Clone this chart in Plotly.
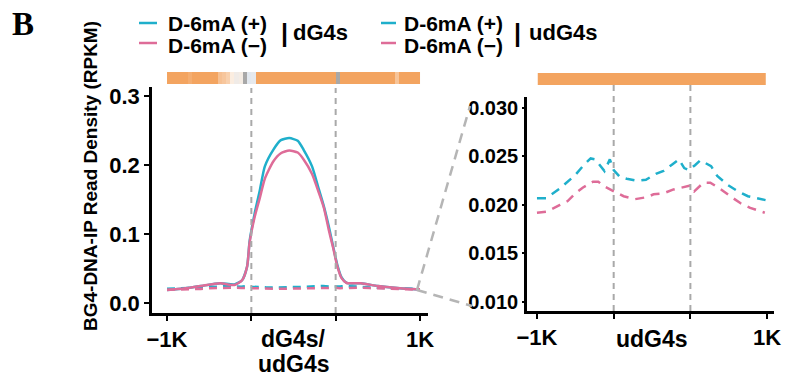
import plotly.graph_objects as go

W, H = 786, 380

# ---------------- data ----------------
# dG4s (solid), position scaled: 0=-1K, 1=G4 start, 2=G4 end, 3=+1K
dg4s_pos = [0.0, 0.2, 0.4, 0.63, 0.8, 0.89, 0.95, 0.98, 1.04, 1.1, 1.16, 1.26, 1.35, 1.45,
            1.55, 1.62, 1.72, 1.8, 1.86, 1.92, 1.97, 2.02, 2.07, 2.13, 2.3, 2.5, 2.73, 2.95, 3.0]
dg4s_plus = [0.019, 0.021, 0.0246, 0.0285, 0.027, 0.033, 0.053, 0.09, 0.13, 0.163, 0.198, 0.222,
             0.236, 0.239, 0.235, 0.222, 0.198, 0.165, 0.14, 0.11, 0.082, 0.055, 0.037, 0.029,
             0.0285, 0.0246, 0.0217, 0.020, 0.020]
dg4s_minus = [0.019, 0.021, 0.0246, 0.0285, 0.026, 0.033, 0.053, 0.088, 0.125, 0.152, 0.18, 0.205,
              0.217, 0.221, 0.218, 0.208, 0.187, 0.16, 0.138, 0.105, 0.08, 0.053, 0.036, 0.029,
              0.0285, 0.0246, 0.0217, 0.020, 0.020]

# udG4s (dashed)
udg_plus_pos = [0.0, 0.12, 0.3, 0.5, 0.62, 0.7, 0.76, 0.88, 0.95, 1.0, 1.08, 1.17, 1.3, 1.42,
                1.55, 1.65, 1.75, 1.85, 1.92, 1.98, 2.06, 2.13, 2.27, 2.35, 2.48, 2.6, 2.75, 2.9, 2.98]
udg_plus = [0.0207, 0.0207, 0.0217, 0.0231, 0.0242, 0.0248, 0.0247, 0.0235, 0.0247, 0.0236,
            0.0229, 0.0227, 0.0225, 0.0226, 0.0232, 0.0235, 0.0241, 0.0247, 0.0238, 0.0236,
            0.0241, 0.0246, 0.0240, 0.0230, 0.0221, 0.0215, 0.0209, 0.0206, 0.0205]
udg_minus_pos = [0.0, 0.12, 0.3, 0.4, 0.5, 0.6, 0.73, 0.8, 0.88, 1.0, 1.13, 1.28, 1.43, 1.52,
                 1.65, 1.78, 1.9, 2.0, 2.05, 2.17, 2.26, 2.4, 2.52, 2.65, 2.78, 2.9, 2.97]
udg_minus = [0.0192, 0.0193, 0.0200, 0.0204, 0.0212, 0.0218, 0.0224, 0.0224, 0.0219, 0.0214,
             0.0209, 0.0206, 0.0208, 0.0211, 0.0212, 0.0216, 0.0218, 0.0220, 0.0214, 0.0223,
             0.0223, 0.0216, 0.0209, 0.0202, 0.0197, 0.0194, 0.0192]

# heat strips (1 = full orange, lower = paler, 0 = gray)
strip_dg4s = [1, 1, 1, 1, 1, 0.92, 1, 1, 1, 1, 1, 1, 0.75, 0.7, 0.6, 0.3, 0.22, 0.25, 0.0, 0.12,
              0.15, 1, 1, 1, 1, 1, 1, 1, 1, 1, 1, 1, 1, 1, 1, 1, 1, 1, 1, 1,
              0.0, 1, 1, 1, 1, 1, 1, 1, 1, 1, 1, 1, 1, 1, 0.72, 1, 1, 1, 1, 1]
strip_udg4s = [1] * 60

g4_bounds = [1, 2]
x_tickvals = [0, 1, 2, 3]
x_ticktext = ["\u22121K", "", "", "1K"]
y1_ticks = [0.0, 0.1, 0.2, 0.3]
y1_ticktext = ["0.0", "0.1", "0.2", "0.3"]
y2_ticks = [0.010, 0.015, 0.020, 0.025, 0.030]
y2_ticktext = ["0.010", "0.015", "0.020", "0.025", "0.030"]

BLUE = "#1FAFCB"
PINK = "#DE6C98"
ORANGE = "#F3A460"
GRAY = "#A9A9A9"
FONT = "Liberation Sans, Arial, sans-serif"


def px(x):
    return x / W


def py(y):
    return 1 - y / H


fig = go.Figure()

# left panel
fig.add_trace(go.Scatter(x=dg4s_pos, y=dg4s_plus, mode="lines", line=dict(color=BLUE, width=2.5, shape="spline", smoothing=0.6),
                         xaxis="x", yaxis="y", showlegend=False))
fig.add_trace(go.Scatter(x=udg_plus_pos, y=udg_plus, mode="lines", line=dict(color=BLUE, width=2.5, dash="8px,6px"),
                         xaxis="x", yaxis="y", showlegend=False))
fig.add_trace(go.Scatter(x=udg_minus_pos, y=udg_minus, mode="lines", line=dict(color=PINK, width=2.5, dash="8px,6px"),
                         xaxis="x", yaxis="y", showlegend=False))
fig.add_trace(go.Scatter(x=dg4s_pos, y=dg4s_minus, mode="lines", line=dict(color=PINK, width=2.5, shape="spline", smoothing=0.6),
                         xaxis="x", yaxis="y", showlegend=False))

# right panel
fig.add_trace(go.Scatter(x=udg_plus_pos, y=udg_plus, mode="lines", line=dict(color=BLUE, width=2.5, dash="9px,7px"),
                         xaxis="x2", yaxis="y2", showlegend=False))
fig.add_trace(go.Scatter(x=udg_minus_pos, y=udg_minus, mode="lines", line=dict(color=PINK, width=2.5, dash="9px,7px"),
                         xaxis="x2", yaxis="y2", showlegend=False))

cscale = [[0.0, "#A8A8A8"], [0.12, "#E2E8EF"], [0.3, "#FBEDE0"], [0.7, "#F7C69C"], [1.0, ORANGE]]
fig.add_trace(go.Heatmap(z=[strip_dg4s], x0=0.025, dx=0.05, y=[0], colorscale=cscale, zmin=0, zmax=1,
                         showscale=False, xaxis="x3", yaxis="y3", hoverinfo="skip"))
fig.add_trace(go.Heatmap(z=[strip_udg4s], x0=0.035, dx=0.0495, y=[0], colorscale=cscale, zmin=0, zmax=1,
                         showscale=False, xaxis="x4", yaxis="y4", hoverinfo="skip"))

tickfont_x = dict(family=FONT, size=22, color="black", weight="bold")
axis_common = dict(showline=True, linecolor="black", linewidth=2.5, ticks="outside", tickcolor="black",
                   tickwidth=2, showgrid=False, zeroline=False, fixedrange=True, automargin=False)
hidden = dict(visible=False, fixedrange=True, automargin=False)

xl = [152, 428]
xr = [527, 774]
fig.update_layout(
    template="none",
    width=W, height=H, margin=dict(l=0, r=0, t=0, b=0, autoexpand=False),
    paper_bgcolor="white", plot_bgcolor="white",
    font=dict(family=FONT, color="black"),
    xaxis=dict(domain=[px(xl[0]), px(xl[1])], range=[-0.178, 3.095], anchor="y",
               tickvals=x_tickvals, ticktext=x_ticktext, ticklen=5, tickfont=tickfont_x, **axis_common),
    yaxis=dict(domain=[py(313), py(87)], range=[-0.0145, 0.313], anchor="x",
               tickvals=y1_ticks, ticktext=y1_ticktext, ticklen=5,
               tickfont=dict(family=FONT, size=22, color="black", weight="bold"), **axis_common),
    xaxis2=dict(domain=[px(xr[0]), px(xr[1])], range=[-0.130, 3.09], anchor="y2",
                tickvals=x_tickvals, ticktext=x_ticktext, ticklen=5, tickfont=tickfont_x, **axis_common),
    yaxis2=dict(domain=[py(311), py(97)], range=[0.00907, 0.03113], anchor="x2",
                tickvals=y2_ticks, ticktext=y2_ticktext, ticklen=2,
                tickfont=dict(family=FONT, size=20, color="black", weight="bold"), **axis_common),
    xaxis3=dict(domain=[px(xl[0]), px(xl[1])], range=[-0.178, 3.095], anchor="y3", **hidden),
    yaxis3=dict(domain=[py(84), py(72)], range=[-0.5, 0.5], anchor="x3", **hidden),
    xaxis4=dict(domain=[px(xr[0]), px(xr[1])], range=[-0.130, 3.09], anchor="y4", **hidden),
    yaxis4=dict(domain=[py(85), py(73)], range=[-0.5, 0.5], anchor="x4", **hidden),
)

shapes = []
for b in g4_bounds:
    shapes.append(dict(type="line", xref="x", yref="paper", x0=b, x1=b, y0=py(313), y1=py(88),
                       line=dict(color=GRAY, width=2, dash="6px,5px")))
    shapes.append(dict(type="line", xref="x2", yref="paper", x0=b, x1=b, y0=py(311), y1=py(85),
                       line=dict(color=GRAY, width=2, dash="6px,5px")))
# zoom connectors
shapes.append(dict(type="line", xref="paper", yref="paper", x0=px(417), y0=py(290), x1=px(470), y1=py(106),
                   line=dict(color="#B5B5B5", width=2.5, dash="10px,7px")))
shapes.append(dict(type="line", xref="paper", yref="paper", x0=px(417), y0=py(290), x1=px(472), y1=py(306),
                   line=dict(color="#B5B5B5", width=2.5, dash="10px,7px")))
# legend keys
shapes.append(dict(type="line", xref="paper", yref="paper", x0=px(139), x1=px(157), y0=py(23), y1=py(23),
                   line=dict(color=BLUE, width=2.5)))
shapes.append(dict(type="line", xref="paper", yref="paper", x0=px(139), x1=px(157), y0=py(43), y1=py(43),
                   line=dict(color=PINK, width=2.5)))
shapes.append(dict(type="line", xref="paper", yref="paper", x0=px(381), x1=px(396), y0=py(23), y1=py(23),
                   line=dict(color=BLUE, width=2.5)))
shapes.append(dict(type="line", xref="paper", yref="paper", x0=px(381), x1=px(396), y0=py(43), y1=py(43),
                   line=dict(color=PINK, width=2.5)))
fig.update_layout(shapes=shapes)


def ann(text, x, y, size, xanchor="left", yanchor="middle", family=FONT, angle=0, xref="paper"):
    return dict(text=text, x=x, y=y, xref=xref, yref="paper", xanchor=xanchor, yanchor=yanchor,
                showarrow=False, textangle=angle,
                font=dict(family=family, size=size, color="black", weight="bold"))


annotations = [
    ann("B", px(10), py(24), 33, family="Liberation Serif, Times New Roman, serif"),
    ann("D-6mA (+)", px(166), py(24), 21),
    ann("D-6mA (\u2212)", px(166), py(45), 21),
    ann("|", px(279), py(33), 25),
    ann("dG4s", px(291), py(32), 22),
    ann("D-6mA (+)", px(402), py(24), 21),
    ann("D-6mA (\u2212)", px(402), py(45), 21),
    ann("|", px(512), py(33), 25),
    ann("udG4s", px(527), py(32), 22),
    ann("BG4-DNA-IP Read Density (RPKM)", px(90), py(176), 19, xanchor="center", angle=-90),
    ann("dG4s/", 1.5, py(339), 23, xanchor="center", xref="x"),
    ann("udG4s", 1.5, py(364), 23, xanchor="center", xref="x"),
    ann("udG4s", 1.5, py(339), 23, xanchor="center", xref="x2"),
]
fig.update_layout(annotations=annotations)

# remove the browser's default page margin so the 786x380 figure fills the window exactly
fig.write_html("out.html", config={"displayModeBar": False},
               post_script="document.body.style.margin='0';document.body.style.overflow='hidden';")
